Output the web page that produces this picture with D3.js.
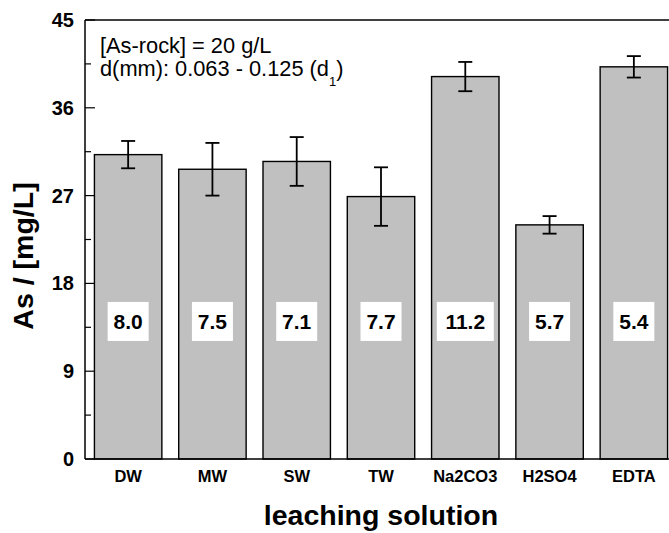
<!DOCTYPE html>
<html>
<head>
<meta charset="utf-8">
<script src="https://cdn.jsdelivr.net/npm/d3@7"></script>
<style>
  body { margin: 0; background: #fff; }
  text { font-family: Arial, "Liberation Sans", sans-serif; }
</style>
</head>
<body>
<svg id="chart" width="669" height="533"></svg>
<script>
// data
var solutions = ["DW", "MW", "SW", "TW", "Na2CO3", "H2SO4", "EDTA"]
var arsenic = [31.2, 29.7, 30.5, 26.9, 39.2, 24.0, 40.2]
var errors = [1.4, 2.7, 2.5, 3.0, 1.5, 0.9, 1.1]
var pH = ["8.0", "7.5", "7.1", "7.7", "11.2", "5.7", "5.4"]
var yTicks = [0, 9, 18, 27, 36, 45]

var svg = d3.select("#chart")

// plot edges (window.top is taken, so other names)
var plotLeft = 85, plotTop = 20, plotBottom = 459, plotRight = 676

var x = d3.scaleBand().domain(solutions).range([plotLeft + 1, plotRight]).paddingInner(0.2).paddingOuter(0.1)
var y = d3.scaleLinear().domain([0, 45]).range([plotBottom, plotTop])

// bars
svg.selectAll("rect.bar").data(solutions).enter().append("rect")
  .attr("class", "bar")
  .attr("x", function(d) { return x(d) })
  .attr("y", function(d, i) { return y(arsenic[i]) })
  .attr("width", x.bandwidth())
  .attr("height", function(d, i) { return y(0) - y(arsenic[i]) })
  .attr("fill", "#c0c0c0").attr("stroke", "#000").attr("stroke-width", 1.4)

// error bars
var eb = svg.selectAll("g.err").data(solutions).enter().append("g")
  .attr("stroke", "#000").attr("stroke-width", 1.8)
eb.append("line")
  .attr("x1", function(d) { return x(d) + x.bandwidth() / 2 })
  .attr("x2", function(d) { return x(d) + x.bandwidth() / 2 })
  .attr("y1", function(d, i) { return y(arsenic[i] + errors[i]) })
  .attr("y2", function(d, i) { return y(arsenic[i] - errors[i]) })
eb.append("line")
  .attr("x1", function(d) { return x(d) + x.bandwidth() / 2 - 7 })
  .attr("x2", function(d) { return x(d) + x.bandwidth() / 2 + 7 })
  .attr("y1", function(d, i) { return y(arsenic[i] + errors[i]) })
  .attr("y2", function(d, i) { return y(arsenic[i] + errors[i]) })
eb.append("line")
  .attr("x1", function(d) { return x(d) + x.bandwidth() / 2 - 7 })
  .attr("x2", function(d) { return x(d) + x.bandwidth() / 2 + 7 })
  .attr("y1", function(d, i) { return y(arsenic[i] - errors[i]) })
  .attr("y2", function(d, i) { return y(arsenic[i] - errors[i]) })

// pH boxes
var boxY = y(14.1)
svg.selectAll("rect.box").data(solutions).enter().append("rect")
  .attr("x", function(d, i) { return x(d) + x.bandwidth() / 2 - (16 * pH[i].length - 7) / 2 })
  .attr("y", boxY - 19.5)
  .attr("width", function(d, i) { return 16 * pH[i].length - 7 })
  .attr("height", 39)
  .attr("fill", "#fff")
svg.selectAll("text.ph").data(solutions).enter().append("text")
  .attr("x", function(d) { return x(d) + x.bandwidth() / 2 })
  .attr("y", boxY + 8)
  .attr("text-anchor", "middle")
  .style("font-size", "21px").style("font-weight", "bold")
  .text(function(d, i) { return pH[i] })

// axes frame
svg.append("line").attr("x1", plotLeft).attr("x2", 669).attr("y1", plotTop).attr("y2", plotTop).attr("stroke", "#000").attr("stroke-width", 1.5)
svg.append("line").attr("x1", plotLeft).attr("x2", 669).attr("y1", plotBottom).attr("y2", plotBottom).attr("stroke", "#000").attr("stroke-width", 1.5)
svg.append("line").attr("x1", plotLeft).attr("x2", plotLeft).attr("y1", plotTop).attr("y2", plotBottom).attr("stroke", "#000").attr("stroke-width", 1.5)

// y ticks, inward
var minor = d3.range(4.5, 45, 9)
svg.selectAll("line.minor").data(minor).enter().append("line")
  .attr("x1", plotLeft).attr("x2", plotLeft + 6).attr("y1", function(d) { return y(d) }).attr("y2", function(d) { return y(d) })
  .attr("stroke", "#000").attr("stroke-width", 1.2)
svg.selectAll("line.major").data(yTicks).enter().append("line")
  .attr("x1", plotLeft).attr("x2", plotLeft + 10).attr("y1", function(d) { return y(d) }).attr("y2", function(d) { return y(d) })
  .attr("stroke", "#000").attr("stroke-width", 1.2)
svg.selectAll("text.ytick").data(yTicks).enter().append("text")
  .attr("x", 74).attr("y", function(d) { return y(d) + 7 })
  .attr("text-anchor", "end")
  .style("font-size", "20px").style("font-weight", "bold")
  .text(function(d) { return d })

// x tick labels
svg.selectAll("text.xtick").data(solutions).enter().append("text")
  .attr("x", function(d) { return x(d) + x.bandwidth() / 2 }).attr("y", 482)
  .attr("text-anchor", "middle")
  .style("font-size", "16.5px").style("font-weight", "bold")
  .text(function(d) { return d })

// axis titles
svg.append("text").attr("x", 381).attr("y", 525).attr("text-anchor", "middle")
  .style("font-size", "28.5px").style("font-weight", "bold").text("leaching solution")
svg.append("text").attr("transform", "translate(33,256) rotate(-90)").attr("text-anchor", "middle")
  .style("font-size", "28.5px").style("font-weight", "bold").text("As / [mg/L]")

// annotation
svg.append("text").attr("x", 100).attr("y", 53).style("font-size", "21.8px").text("[As-rock] = 20 g/L")
var t2 = svg.append("text").attr("x", 100).attr("y", 76).style("font-size", "21.8px")
t2.append("tspan").text("d(mm): 0.063 - 0.125 (d")
t2.append("tspan").attr("dy", 10).style("font-size", "13px").text("1")
t2.append("tspan").attr("dy", -10).text(")")
</script>
</body>
</html>
